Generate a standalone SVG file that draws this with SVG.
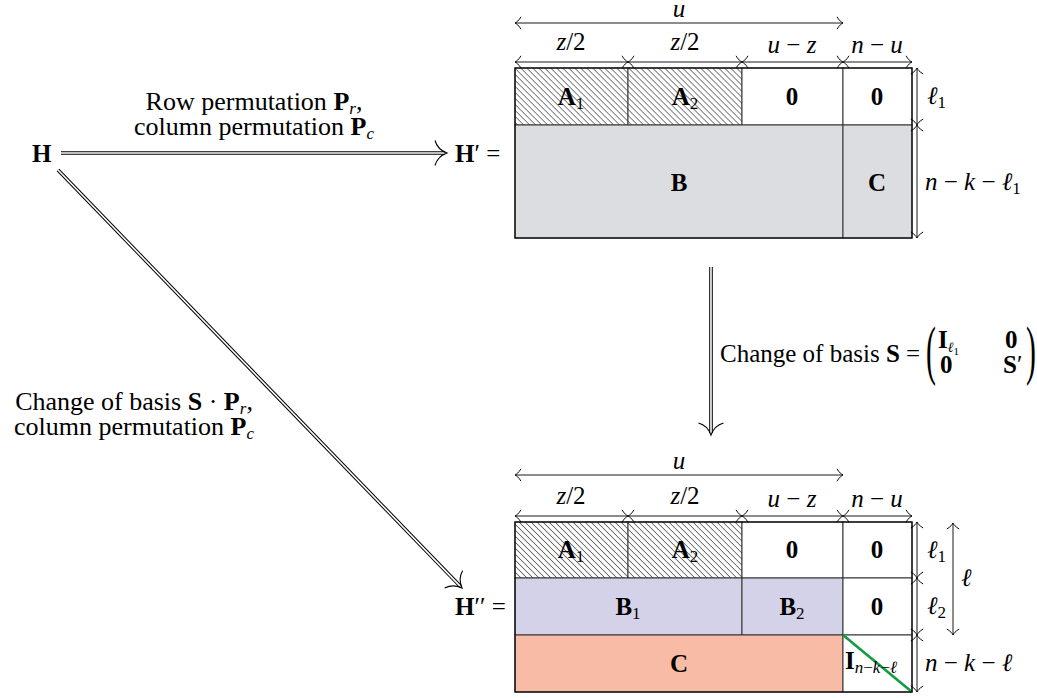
<svg xmlns="http://www.w3.org/2000/svg" width="1037" height="698" viewBox="0 0 1037 698">
<style>
  text { font-family: "Liberation Serif", "Times New Roman", serif; font-size: 25px; fill: #000; }
  .b { font-weight: bold; }
  .i { font-style: italic; }
  .c { text-anchor: middle; }
  .lbl { font-size: 26px; }
  .paren { font-size: 66px; }
  .cell { stroke: #333; stroke-width: 1; }
  .frame { fill: none; stroke: #000; stroke-width: 1.2; }
  .dim { fill: none; stroke: #000; stroke-width: 0.9; marker-start: url(#tip); marker-end: url(#tip); }
  .dbl-o { fill: none; stroke: #000; stroke-width: 3.6; }
  .dbl-i { fill: none; stroke: #fff; stroke-width: 1.6; marker-end: url(#dhead); }
  .gray { fill: #dcdde0; }
  .lav { fill: #d4d2e8; }
  .salmon { fill: #f8bca6; }
  .hatch { fill: url(#hatch); }
  .white { fill: #fff; }
  .diag { stroke: #129c43; stroke-width: 2.6; }
</style>
<defs>
  <!-- diagonal hatching used for the A blocks -->
  <pattern id="hatch" patternUnits="userSpaceOnUse" width="4.24" height="10" patternTransform="rotate(-45)">
    <rect width="4.24" height="10" fill="#fff"/>
    <line x1="2.12" y1="0" x2="2.12" y2="10" stroke="#555" stroke-width="0.8"/>
  </pattern>
  <!-- small open tip for dimension lines -->
  <marker id="tip" markerUnits="userSpaceOnUse" markerWidth="16" markerHeight="16" viewBox="-8 -8 16 16" refX="0" refY="0" orient="auto-start-reverse" overflow="visible">
    <path d="M-6,-6.2 C-4,-2.6 -1.3,-0.5 0,0 C-1.3,0.5 -4,2.6 -6,6.2" fill="none" stroke="#000" stroke-width="0.95"/>
  </marker>
  <!-- head for the double (implication) arrows -->
  <marker id="dhead" markerUnits="userSpaceOnUse" markerWidth="30" markerHeight="30" viewBox="-15 -15 30 30" refX="0" refY="0" orient="auto" overflow="visible">
    <path d="M-10,-12.5 C-8,-5.5 -2.5,-1.6 2,0 C-2.5,1.6 -8,5.5 -10,12.5" fill="none" stroke="#000" stroke-width="1.1"/>
  </marker>
</defs>

<!-- source matrix -->
<g id="node-H">
  <text x="32" y="162" class="b">H</text>
</g>

<!-- H' : after row/column permutation -->
<g id="node-Hprime">
  <text x="455" y="162"><tspan class="b">H</tspan>′ =</text>
  <rect class="cell hatch" x="515" y="68" width="113" height="57"/>
  <rect class="cell hatch" x="628" y="68" width="114" height="57"/>
  <rect class="cell white" x="742" y="68" width="101" height="57"/>
  <rect class="cell white" x="843" y="68" width="69" height="57"/>
  <rect class="cell gray" x="515" y="125" width="328" height="113"/>
  <rect class="cell gray" x="843" y="125" width="69" height="113"/>
  <rect class="frame" x="515" y="68" width="397" height="170"/>
  <text x="571" y="105" class="c"><tspan class="b">A</tspan><tspan font-size="17" dy="4">1</tspan></text>
  <text x="685" y="105" class="c"><tspan class="b">A</tspan><tspan font-size="17" dy="4">2</tspan></text>
  <text x="792" y="105" class="c b">0</text>
  <text x="877" y="105" class="c b">0</text>
  <text x="679" y="191" class="c b">B</text>
  <text x="877" y="191" class="c b">C</text>
  <!-- column widths -->
  <path class="dim" d="M515,23 H843"/>
  <text x="679" y="17" class="c i">u</text>
  <path class="dim" d="M515,62 H628"/>
  <path class="dim" d="M628,62 H742"/>
  <path class="dim" d="M742,62 H843"/>
  <path class="dim" d="M843,62 H912"/>
  <text x="571" y="50" class="c"><tspan class="i">z</tspan>/2</text>
  <text x="685" y="50" class="c"><tspan class="i">z</tspan>/2</text>
  <text x="792" y="53" class="c"><tspan class="i">u</tspan> − <tspan class="i">z</tspan></text>
  <text x="877" y="53" class="c"><tspan class="i">n</tspan> − <tspan class="i">u</tspan></text>
  <!-- row heights -->
  <path class="dim" d="M917,68 V125"/>
  <path class="dim" d="M917,125 V238"/>
  <text x="927" y="104"><tspan class="i">ℓ</tspan><tspan font-size="17" dy="4">1</tspan></text>
  <text x="925" y="190"><tspan class="i">n</tspan> − <tspan class="i">k</tspan> − <tspan class="i">ℓ</tspan><tspan font-size="17" dy="4">1</tspan></text>
</g>

<!-- H'' : after change of basis -->
<g id="node-Hsecond">
  <text x="455" y="615"><tspan class="b">H</tspan>′′ =</text>
  <rect class="cell hatch" x="515" y="522" width="113" height="56"/>
  <rect class="cell hatch" x="628" y="522" width="114" height="56"/>
  <rect class="cell white" x="742" y="522" width="101" height="56"/>
  <rect class="cell white" x="843" y="522" width="69" height="56"/>
  <rect class="cell lav" x="515" y="578" width="227" height="57"/>
  <rect class="cell lav" x="742" y="578" width="101" height="57"/>
  <rect class="cell white" x="843" y="578" width="69" height="57"/>
  <rect class="cell salmon" x="515" y="635" width="328" height="57"/>
  <rect class="cell white" x="843" y="635" width="69" height="57"/>
  <line class="diag" x1="843" y1="635" x2="912" y2="692"/>
  <rect class="frame" x="515" y="522" width="397" height="170"/>
  <text x="571" y="558" class="c"><tspan class="b">A</tspan><tspan font-size="17" dy="4">1</tspan></text>
  <text x="685" y="558" class="c"><tspan class="b">A</tspan><tspan font-size="17" dy="4">2</tspan></text>
  <text x="792" y="558" class="c b">0</text>
  <text x="877" y="558" class="c b">0</text>
  <text x="628" y="615" class="c"><tspan class="b">B</tspan><tspan font-size="17" dy="4">1</tspan></text>
  <text x="792" y="615" class="c"><tspan class="b">B</tspan><tspan font-size="17" dy="4">2</tspan></text>
  <text x="877" y="615" class="c b">0</text>
  <text x="679" y="672" class="c b">C</text>
  <text x="845" y="669"><tspan class="b">I</tspan><tspan font-size="17" dy="4"><tspan class="i">n</tspan>−<tspan class="i">k</tspan>−<tspan class="i">ℓ</tspan></tspan></text>
  <!-- column widths -->
  <path class="dim" d="M515,475 H843"/>
  <text x="679" y="469" class="c i">u</text>
  <path class="dim" d="M515,516 H628"/>
  <path class="dim" d="M628,516 H742"/>
  <path class="dim" d="M742,516 H843"/>
  <path class="dim" d="M843,516 H912"/>
  <text x="571" y="504" class="c"><tspan class="i">z</tspan>/2</text>
  <text x="685" y="504" class="c"><tspan class="i">z</tspan>/2</text>
  <text x="792" y="507" class="c"><tspan class="i">u</tspan> − <tspan class="i">z</tspan></text>
  <text x="877" y="507" class="c"><tspan class="i">n</tspan> − <tspan class="i">u</tspan></text>
  <!-- row heights -->
  <path class="dim" d="M917,522 V578"/>
  <path class="dim" d="M917,578 V635"/>
  <path class="dim" d="M917,635 V692"/>
  <path class="dim" d="M953,523 V635"/>
  <text x="927" y="558"><tspan class="i">ℓ</tspan><tspan font-size="17" dy="4">1</tspan></text>
  <text x="927" y="614"><tspan class="i">ℓ</tspan><tspan font-size="17" dy="4">2</tspan></text>
  <text x="961" y="586" class="i">ℓ</text>
  <text x="925" y="671"><tspan class="i">n</tspan> − <tspan class="i">k</tspan> − <tspan class="i">ℓ</tspan></text>
</g>

<!-- transformations -->
<g id="connectors">
  <path class="dbl-o" d="M61,153 H445"/>
  <path class="dbl-i" d="M61,153 H445"/>
  <path class="dbl-o" d="M58,170 L460.6,586.6"/>
  <path class="dbl-i" d="M58,170 L460.6,586.6"/>
  <path class="dbl-o" d="M711,267 V433"/>
  <path class="dbl-i" d="M711,267 V433"/>
</g>

<g id="edge-labels">
  <text x="254" y="110" class="c lbl">Row permutation <tspan class="b">P</tspan><tspan class="i" font-size="17" dy="4">r</tspan><tspan dy="-4">,</tspan></text>
  <text x="254" y="135" class="c lbl">column permutation <tspan class="b">P</tspan><tspan class="i" font-size="17" dy="4">c</tspan></text>

  <text x="134" y="410" class="c lbl">Change of basis <tspan class="b">S</tspan> · <tspan class="b">P</tspan><tspan class="i" font-size="17" dy="4">r</tspan><tspan dy="-4">,</tspan></text>
  <text x="134" y="435" class="c lbl">column permutation <tspan class="b">P</tspan><tspan class="i" font-size="17" dy="4">c</tspan></text>

  <text x="720" y="362">Change of basis <tspan class="b">S</tspan> =</text>
  <text class="paren" transform="translate(926,372) scale(0.45,1)">(</text>
  <text class="paren" transform="translate(1026,372) scale(0.45,1)">)</text>
  <text x="938" y="348"><tspan class="b">I</tspan><tspan class="i" font-size="14" dy="4">ℓ</tspan><tspan font-size="11" dy="3">1</tspan></text>
  <text x="1005" y="348" class="b">0</text>
  <text x="940" y="373" class="b">0</text>
  <text x="1003" y="373"><tspan class="b">S</tspan>′</text>
</g>
</svg>
